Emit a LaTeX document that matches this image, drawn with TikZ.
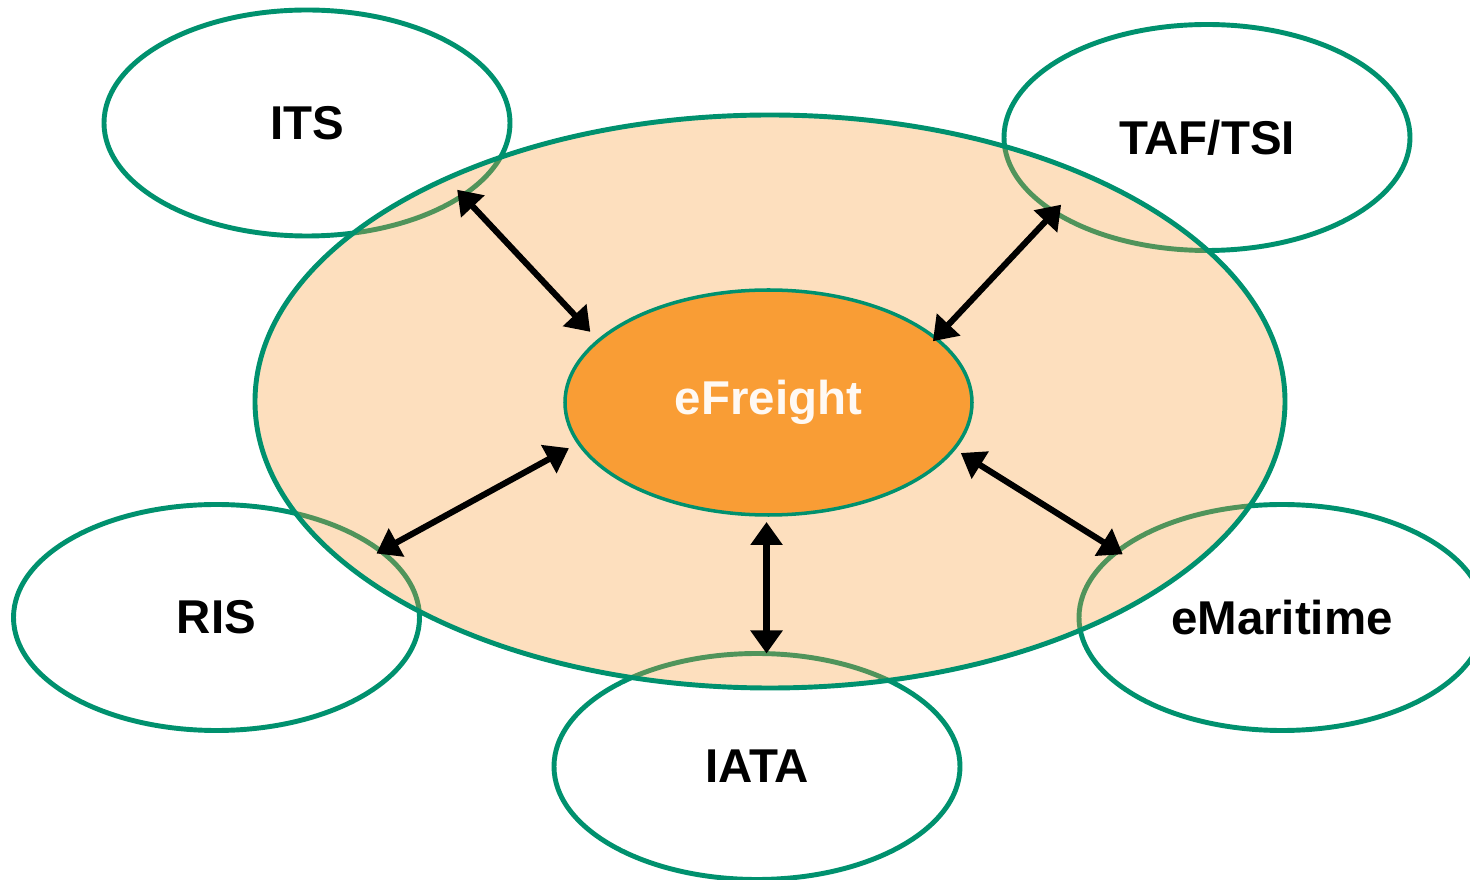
\documentclass[tikz,border=0pt]{standalone}
\usepackage{fontspec}
\setmainfont{Liberation Sans}
\usepackage{tikz}
\usetikzlibrary{shapes.geometric,arrows.meta}
\pgfdeclarelayer{background}
\pgfdeclarelayer{foreground}
\pgfsetlayers{background,main,foreground}
\definecolor{ringgreen}{RGB}{0,145,110}
\definecolor{freightorange}{RGB}{249,157,53}
\tikzset{
  sysbox/.style={ellipse,draw=ringgreen,line width=2.8pt,fill=white,inner sep=0,outer sep=0,
    minimum width=8.12cm,minimum height=4.52cm,font=\fontsize{27}{32}\selectfont\bfseries},
  link/.style={line width=3.5pt,{Triangle[length=0.46cm,width=0.62cm]}-{Triangle[length=0.46cm,width=0.62cm]}}
}

\begin{document}
\begin{tikzpicture}
\useasboundingbox (0,0) rectangle (29.4,17.6);
\begin{pgfonlayer}{background}
\node[sysbox] (its) at (6.14,15.14) {ITS};
\node[sysbox] (taf) at (24.14,14.85) {TAF/TSI};
\node[sysbox] (ris) at (4.33,5.25) {RIS};
\node[sysbox] (iata) at (15.14,2.27) {IATA};
\node[sysbox] (emar) at (25.64,5.25) {eMaritime};
\end{pgfonlayer}
\node[ellipse,draw=ringgreen,line width=2.8pt,fill=freightorange,fill opacity=0.32,inner sep=0,
  minimum width=20.6cm,minimum height=11.46cm] (eu) at (15.40,9.57) {};
\node[ellipse,draw=ringgreen,line width=2pt,fill=freightorange,inner sep=0,outer sep=0,
  minimum width=8.14cm,minimum height=4.5cm,text=white!94!freightorange,
  font=\fontsize{27}{32}\selectfont\bfseries] (c) at (15.37,9.55) {eFreight};
\begin{pgfonlayer}{foreground}
\draw[link,shorten <=-0.16cm,shorten >=0.24cm] (its.-25) -- (c.160); %its
\draw[link,shorten <=-0.2cm,shorten >=-0.08cm] (taf.206) -- (c.21); %taf
\draw[link,shorten <=-0.1cm,shorten >=0.22cm] (ris.22) -- (c.192); %ris
\draw[link,shorten <=-0.12cm,shorten >=0.16cm] (emar.158) -- (c.-14); %emaritime
\draw[link,shorten <=0.14cm] (c.-91) -- (c.-91 |- iata.north); %iata
\end{pgfonlayer}
\end{tikzpicture}
\end{document}
